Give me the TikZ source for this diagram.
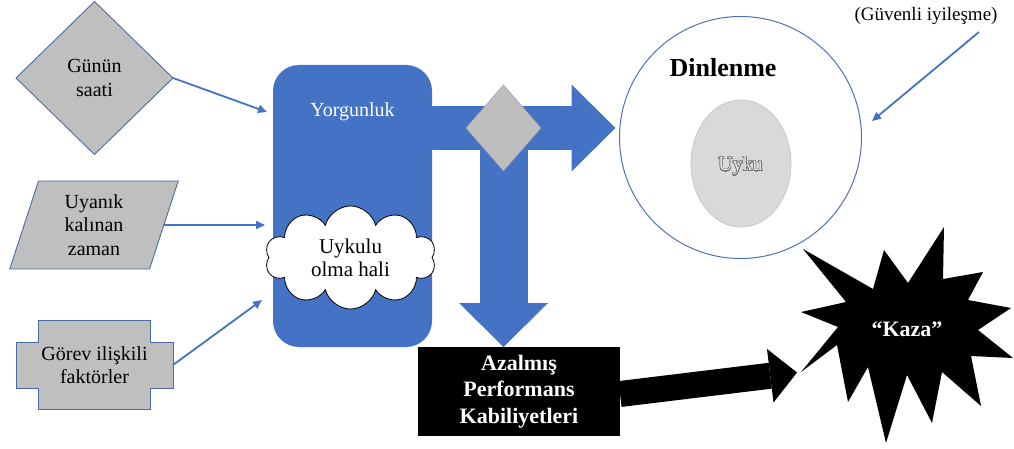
\documentclass[tikz,border=0pt]{standalone}
\usepackage{fontspec}
\setmainfont{Liberation Serif}
\usepackage[copies]{contour}
\contourlength{0.35pt}
\contournumber{24}
\usetikzlibrary{shapes.geometric,shapes.symbols,arrows.meta,calc}

\definecolor{officeblue}{RGB}{68,114,196}
\definecolor{circleblue}{RGB}{80,112,180}
\definecolor{shapegray}{RGB}{191,191,191}
\definecolor{shapeedge}{RGB}{74,108,165}
\definecolor{gategray}{RGB}{190,190,190}
\definecolor{sleepgray}{RGB}{217,217,217}
\definecolor{sleepedge}{RGB}{200,200,200}
\definecolor{sleeptext}{RGB}{110,110,110}

\begin{document}
\begin{tikzpicture}[x=1pt,y=-1pt,
  every node/.style={inner sep=0pt, outer sep=0pt},
  factor/.style={fill=shapegray, draw=shapeedge, line width=0.9pt},
  txtA/.style={font=\fontsize{20}{23.5}\selectfont, align=center},
  thinarrow/.style={draw=officeblue, line width=1.8pt, -{Triangle[length=9pt,width=8pt]}},
  blockarrow/.style={line cap=butt}
]
\useasboundingbox (0,0) rectangle (1014,449);

% ---- influencing factors ----
\node[factor, diamond, minimum width=157pt, minimum height=153pt, txtA]
  (gunun) at (94.5,78) {Günün\\saati};
\node[factor, trapezium, trapezium left angle=76, trapezium right angle=104,
  trapezium stretches=true, minimum width=170pt, minimum height=88pt, txtA]
  (uyanik) at (94,225) {Uyanık\\kalınan\\zaman};
\draw[factor] (38,320) -- (150,320) -- (150,342) -- (173,342) -- (173,388)
  -- (150,388) -- (150,409) -- (38,409) -- (38,388) -- (16,388) -- (16,342)
  -- (38,342) -- cycle;
\node[txtA, minimum width=157pt, minimum height=46pt]
  (gorev) at (94.5,365) {Görev ilişkili\\faktörler};

% ---- fatigue block ----
\node[fill=officeblue, rounded corners=26pt, minimum width=159pt,
  minimum height=282pt] (yorg) at (352.5,206) {};
\node[font=\fontsize{20}{24}\selectfont, text=white, anchor=base]
  (yorgtxt) at (352.5,117) {Yorgunluk};
\node[cloud, cloud puffs=10, aspect=1.7, draw=black, fill=white, line width=0.8pt,
  minimum width=171pt, minimum height=103pt,
  font=\fontsize{21}{23}\selectfont, align=center]
  (uykulu) at (350.5,257.5) {Uykulu\\olma hali};

\draw[thinarrow] (gunun.east) -- ($(yorg.north west)+(-6,47)$);
\draw[thinarrow] (uyanik.east) -- ($(yorg.north west)+(-8,160)$);
\draw[thinarrow] (gorev.east) -- ($(yorg.north west)+(-11,235)$);

% ---- rest and sleep ----
\node[circle, draw=circleblue, fill=white, line width=1pt, minimum size=242pt]
  (dinlenme) at (740.5,137.5) {};
\node[font=\bfseries\fontsize{26}{30}\selectfont, anchor=base]
  (dintxt) at (723,77) {Dinlenme};
\node[ellipse, fill=sleepgray, draw=sleepedge, line width=0.8pt,
  minimum width=100pt, minimum height=127pt] (uyku) at (741,163.5) {};
\node[font=\fontsize{20}{24}\selectfont, anchor=base]
  (uykutxt) at (740.5,171) {\contour{sleeptext}{\textcolor{sleepgray!60!white}{Uyku}}};

\node[font=\fontsize{19}{22}\selectfont, anchor=base]
  (guv) at (926,21) {(Güvenli iyileşme)};
\coordinate (guvtail) at (979,32);
\coordinate (guvhead) at (872,121);
\draw[thinarrow] (guvtail) -- (guvhead);

% ---- reduced performance ----
\node[fill=black, minimum width=202pt, minimum height=89pt, text=white,
  font=\bfseries\fontsize{22}{26.5}\selectfont, align=center]
  (perf) at (519,391.5) {Azalmış\\Performans\\Kabiliyetleri};

% ---- split arrow: towards rest, or towards reduced performance ----
\node[diamond, minimum width=75pt, minimum height=86pt] (gate) at (503.5,128) {};
\coordinate (tstart) at (yorg.east |- gate.center);
\draw[blockarrow, officeblue, line width=48pt,
  -{Triangle[length=44pt,width=89pt,line width=0pt]}]
  (gate.center) -- (gate.center |- perf.north);
\draw[blockarrow, officeblue, line width=44pt,
  -{Triangle[length=44pt,width=87pt,line width=0pt]}, shorten >=4pt]
  (tstart) -- (tstart -| dinlenme.west);
\node[diamond, fill=gategray, draw=gategray!85!black, line width=0.5pt,
  minimum width=75pt, minimum height=86pt] at (gate.center) {};

% ---- accident ----
\fill[black] (803,249) -- (873,289) -- (884,250) -- (908,283) -- (944,227)
  -- (943,279) -- (983,272) -- (968,300) -- (1011,308) -- (978,330)
  -- (1013,358) -- (971,356) -- (981,406) -- (942,372) -- (932,423)
  -- (907,375) -- (886,443) -- (868,367) -- (848,402) -- (837,345)
  -- (801,372) -- (838,327) -- (801,312) -- (846,302) -- cycle;
\coordinate (kazatip) at (801,372);
\node[text=white, font=\bfseries\fontsize{22}{26}\selectfont, anchor=base]
  (kaza) at (907,336) {“Kaza”};

\draw[blockarrow, black, line width=26pt,
  -{Triangle[length=27pt,width=54pt,line width=0pt]}, shorten >=4pt]
  ($(perf.east)+(0,2.5)$) -- (kazatip);
\end{tikzpicture}
\end{document}
